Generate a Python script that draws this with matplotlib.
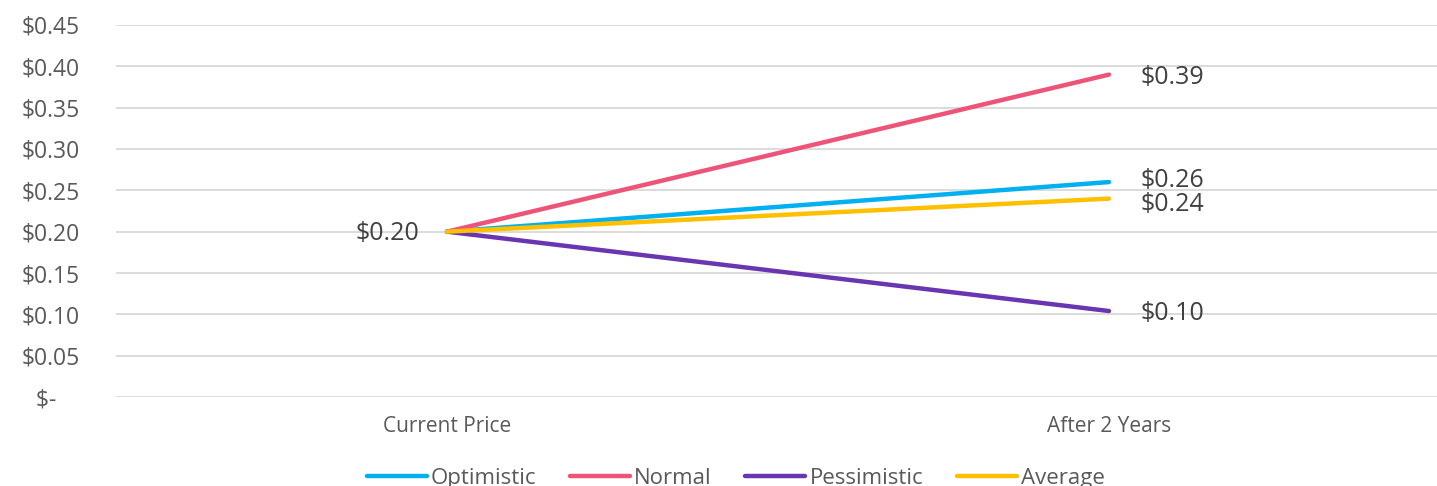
import matplotlib
matplotlib.use("Agg")
import matplotlib.pyplot as plt
from matplotlib.ticker import FuncFormatter

categories = ["Current Price", "After 2 Years"]
series_names = ["Optimistic", "Normal", "Pessimistic", "Average"]
optimistic = [0.20, 0.26]
normal = [0.20, 0.39]
pessimistic = [0.20, 0.104]
average = [0.20, 0.24]
colors = ["#00B0F0", "#EE5478", "#6A35B0", "#FFC000"]

plt.rcParams['font.family'] = ['Open Sans', 'DejaVu Sans']

fig = plt.figure(figsize=(14.37, 4.86), dpi=100)
W, H = 1437, 486
ax = fig.add_axes([116 / W, 1 - 397 / H, (1440 - 116) / W, (397 - 25) / H])

x = list(range(len(categories)))
data = [optimistic, normal, pessimistic, average]
for name, vals, c in zip(series_names, data, colors):
    ax.plot(x, vals, color=c, lw=3.2, solid_capstyle='round', label=name, zorder=3)

ax.set_xlim(-0.5, 1.5)
ax.set_ylim(0, 0.45)
ax.set_yticks([i * 0.05 for i in range(10)])

def fmt(v, pos=None):
    if abs(v) < 1e-9:
        return "$-    "
    return f"${v:.2f}"

ax.yaxis.set_major_formatter(FuncFormatter(fmt))
ax.set_xticks(x)
ax.set_xticklabels(categories)
ax.grid(axis='y', color='#D9D9D9', lw=1.3)
ax.set_axisbelow(True)
for s in ax.spines.values():
    s.set_visible(False)
ax.tick_params(axis='both', length=0, colors='#595959')
ax.tick_params(axis='y', labelsize=16.5, pad=26)
ax.tick_params(axis='x', labelsize=15, pad=14)
for lbl in ax.get_yticklabels():
    lbl.set_horizontalalignment('right')

# data labels
ax.annotate(fmt(optimistic[0]), (0, optimistic[0]), xytext=(-20, -1), textcoords='offset points',
            ha='right', va='center', fontsize=18, color='#404040')
offsets = {"Optimistic": 1, "Normal": -2, "Pessimistic": -2, "Average": -4}
for name, vals in zip(series_names, data):
    ax.annotate(fmt(vals[1]), (1, vals[1]), xytext=(23, offsets[name]), textcoords='offset points',
                ha='left', va='center', fontsize=18, color='#404040')

leg = fig.legend(loc='center', bbox_to_anchor=(0.512, 1 - 478 / H), ncol=4, frameon=False,
                 fontsize=16, handlelength=2.7, handletextpad=0.2, columnspacing=1.5)
for t in leg.get_texts():
    t.set_color('#595959')

fig.savefig("out.png", dpi=100)
